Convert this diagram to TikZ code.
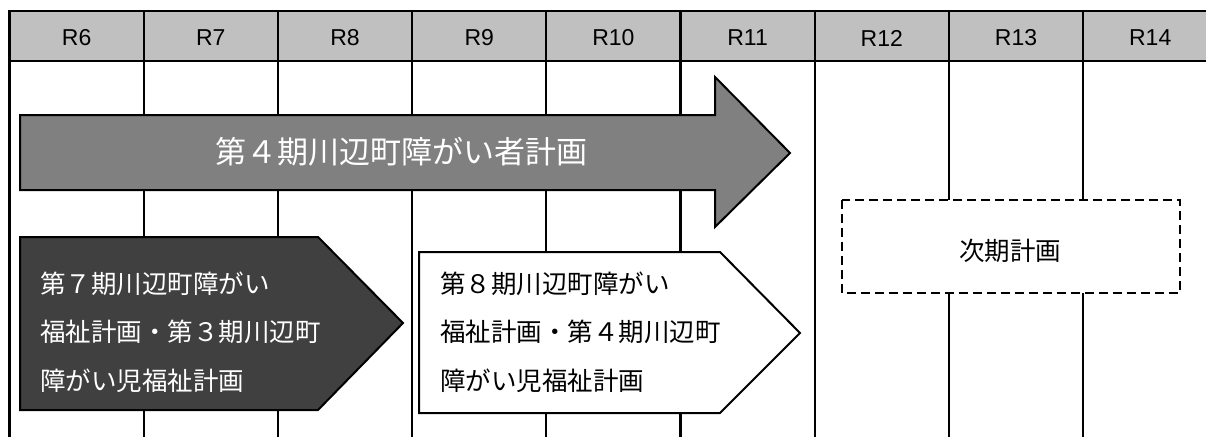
\documentclass[tikz,border=0pt]{standalone}
\usepackage{fontspec}
\setmainfont{Liberation Sans}
\newfontfamily\jpfont{Noto Sans CJK JP}
\newfontfamily\hdrfont{Liberation Sans}
\definecolor{hdrgray}{HTML}{C0C0C0}
\definecolor{midgray}{HTML}{808080}
\definecolor{darkgray}{HTML}{404040}
\begin{document}
\begin{tikzpicture}[x=1pt,y=-1pt,
  gridline/.style={line width=2.2pt,black},
  shapeline/.style={line width=2pt,black,line join=miter},
  hdrtext/.style={font=\hdrfont\fontsize{23}{26}\selectfont,text=black,inner sep=0pt},
  bigtext/.style={font=\jpfont\fontsize{31}{34}\selectfont,text=white,inner sep=0pt},
  plantext/.style={font=\jpfont\fontsize{25.5}{48.5}\selectfont,inner sep=0pt,align=left,anchor=west},
  nexttext/.style={font=\jpfont\fontsize{25.5}{30}\selectfont,inner sep=0pt}]
\useasboundingbox (0,0) rectangle (1206,437);
\clip (0,0) rectangle (1206,437);
\fill[white] (0,0) rectangle (1206,437);
% header
\fill[hdrgray] (9.5,11) rectangle (1230,61);
\draw[gridline] (9.5,437) -- (9.5,11) -- (1230,11);
\draw[gridline] (9.5,61) -- (1230,61);
\foreach \i in {1,...,9} {
  \draw[gridline] ({9.5+134.2*\i},11) -- ({9.5+134.2*\i},437);
}
\node[hdrtext] (h0) at (76.6,38) {R6};
\node[hdrtext] (h1) at (210.8,38) {R7};
\node[hdrtext] (h2) at (345.0,38) {R8};
\node[hdrtext] (h3) at (479.2,38) {R9};
\node[hdrtext] (h4) at (613.4,38) {R10};
\node[hdrtext] (h5) at (747.6,38) {R11};
\node[hdrtext] (h6) at (881.8,38) {R12};
\node[hdrtext] (h7) at (1016.0,38) {R13};
\node[hdrtext] (h8) at (1150.2,38) {R14};
% big arrow
\draw[shapeline,fill=midgray] (20,115) -- (715,115) -- (715,77) -- (790,153) -- (715,227) -- (715,190) -- (20,190) -- cycle;
\node[bigtext] (plan4) at (401,152) {第４期川辺町障がい者計画};
% dark pentagon
\draw[shapeline,fill=darkgray] (20,237) -- (318,237) -- (403,323) -- (318,410) -- (20,410) -- cycle;
\node[plantext,text=white] (plan7) at (40,332) {第７期川辺町障がい\\福祉計画・第３期川辺町\\障がい児福祉計画};
% white pentagon
\draw[shapeline,fill=white] (419,252) -- (720,252) -- (800,333) -- (720,413) -- (419,413) -- cycle;
\node[plantext,text=black] (plan8) at (440,332) {第８期川辺町障がい\\福祉計画・第４期川辺町\\障がい児福祉計画};
% dashed next plan
\draw[line width=2pt,dash pattern=on 9pt off 5pt,fill=white] (842,200) rectangle (1180,293);
\node[nexttext] (nextplan) at (1010,251) {次期計画};
\end{tikzpicture}
\end{document}
